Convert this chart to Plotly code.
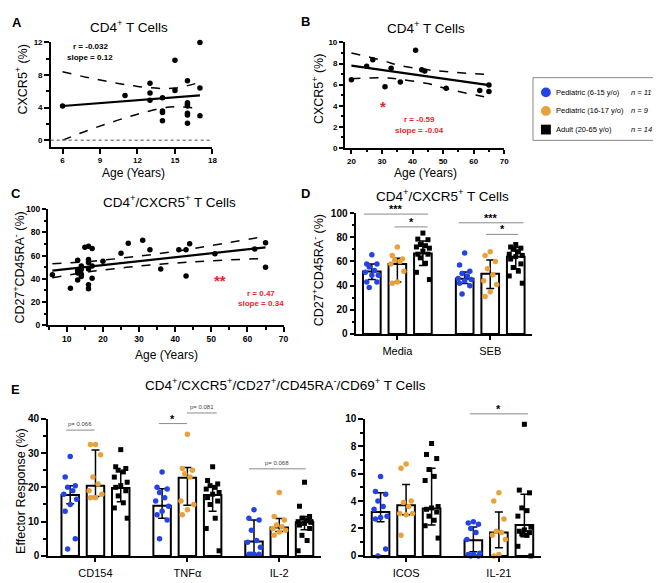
import plotly.graph_objects as go

FONT = "Liberation Sans, Arial, sans-serif"
W, H = 661, 583
BLUE, ORANGE, RED = "#2443e6", "#e9a23b", "#e3262d"

# ---- legend
group_names = ["Pediatric (6-15 y/o)", "Pediatric (16-17 y/o)", "Adult (20-65 y/o)"]
group_n = ["n = 11", "n = 9", "n = 14"]

# ---- panel A: CXCR5+ vs age, pediatric
a_age = [6, 11, 13, 13, 13, 14, 14, 14, 14, 15, 15, 16, 16, 16, 16, 16, 16, 16, 17, 17, 17]
a_cxcr5 = [4.2, 5.5, 7.0, 5.8, 4.9, 5.2, 3.6, 3.4, 2.4, 9.8, 6.1, 7.3, 4.6, 4.4, 4.2, 3.3, 3.1, 2.1, 12.0, 6.4, 3.0]
a_fit_x = [6, 17]
a_fit_y = [4.2, 5.5]
a_ci_x = [6, 8, 10, 12, 14, 15, 16, 17]
a_ci_hi = [8.4, 7.7, 7.1, 6.6, 6.35, 6.4, 6.7, 7.1]
a_ci_lo = [0.0, 1.2, 2.25, 3.2, 3.95, 4.1, 4.05, 3.85]

# ---- panel B: CXCR5+ vs age, adults
b_age = [20, 25, 27, 31, 33, 36, 41, 43, 44, 51, 62, 65, 65]
b_cxcr5 = [6.45, 7.75, 8.35, 5.8, 7.55, 6.25, 9.25, 7.4, 7.3, 5.65, 5.45, 5.95, 5.35]
b_fit_x = [20, 65]
b_fit_y = [7.8, 5.95]
b_ci_x = [20, 30, 36, 45, 52, 65]
b_ci_hi = [9.0, 8.3, 7.8, 7.4, 7.2, 6.95]
b_ci_lo = [6.55, 6.65, 6.5, 6.1, 5.55, 4.75]

# ---- panel C: CD27+CD45RA- vs age
c_age = [6, 11, 13, 13, 13, 13, 14, 14, 14, 14, 15, 16, 16, 16, 16, 16, 16, 17, 17, 17,
         20, 25, 27, 31, 33, 36, 41, 43, 43, 44, 51, 62, 65, 65]
c_val = [43.5, 32, 56, 47, 45, 39, 51, 48, 44, 42, 67, 68, 56.5, 54, 48.5, 35, 31.5, 66, 51, 40.5,
         55, 62, 70.5, 73, 65, 48.5, 65, 65, 42.5, 70, 61.5, 65.5, 71, 50]
c_fit_x = [6, 65]
c_fit_y = [47, 67]
c_ci_x = [6, 15, 20, 30, 40, 50, 65]
c_ci_hi = [53, 54.5, 56, 59.5, 63.5, 68.5, 76.5]
c_ci_lo = [41, 45.5, 47.5, 51, 53.5, 55.5, 57.5]

# ---- panel D: CD27+CD45RA- by stimulation
d_cats = ["Media", "SEB"]
d_med = [[51.7, 45.8], [58, 49.8], [66.6, 64]]
d_lo = [[45, 41.7], [43, 37.6], [56.6, 54]]
d_hi = [[58, 51.2], [62.6, 61.2], [77, 71.5]]
d_pts = [
    [[65.5, 58, 58, 55.5, 52.5, 51, 48.5, 48.5, 43, 43, 38.5],
     [67, 57, 52, 50, 48, 46, 45, 44, 42, 40, 33]],
    [[72, 65, 62, 61, 60, 58, 52, 43, 42],
     [68, 65, 60, 54, 49, 44, 41, 35, 31]],
    [[83.5, 78.5, 78, 74, 73, 72, 71, 68.5, 66, 66, 63, 58.5, 51, 45],
     [74, 72, 71, 70, 68, 66, 65, 64, 62, 58, 55, 52, 48, 42]],
]

# ---- panel E (left): effector response
e1_cats = ["CD154", "TNFα", "IL-2"]
e1_med = [[17.8, 14.6, 4.2], [20.5, 22.8, 8.3], [19.8, 17.8, 9.8]]
e1_lo = [[15.2, 11, 0.5], [17.3, 14.8, 7.1], [15.8, 13, 7.6]]
e1_hi = [[20.5, 19.6, 10.5], [30.9, 25.8, 10.9], [24.7, 20.5, 11.5]]
e1_pts = [
    [[29, 23, 20.5, 20, 19, 18, 16.5, 15, 13, 5, 2],
     [24.5, 20, 19.5, 18.5, 17, 16, 14.5, 13, 12, 10.5, 5],
     [13.5, 11, 10.5, 7.5, 4.5, 4, 2.5, 0.5, 0.5, 0.5, 0.5]],
    [[32.5, 32.5, 29.5, 23, 21, 19, 18, 17, 17],
     [35.5, 25.5, 25, 24, 23, 16, 15, 13.5, 12],
     [18.5, 11.5, 10.5, 9, 8.5, 8, 7.5, 7, 6]],
    [[31, 26, 25.5, 25, 24.5, 23, 21.5, 20.5, 20, 19, 17.5, 15.5, 14, 11],
     [26, 22, 21, 20.5, 20, 19.5, 18.5, 18, 17, 16, 15, 11, 8, 1.5],
     [21.5, 14.5, 11.5, 11, 10.5, 10, 10, 9.5, 9, 8, 6, 4.5, 1.5, 9.8]],
]

# ---- panel E (right)
e2_cats = ["ICOS", "IL-21"]
e2_med = [[3.2, 1.15], [3.7, 1.7], [3.45, 2.25]]
e2_lo = [[2.5, 0.3], [3.0, 0.6], [2.25, 1.4]]
e2_hi = [[4.6, 2.1], [5.2, 3.2], [6.4, 4.5]]
e2_pts = [
    [[5.8, 4.7, 4.5, 4.0, 3.6, 3.4, 2.9, 2.8, 2.7, 0.5, 0.0],
     [2.5, 2.4, 2.3, 2.0, 1.7, 1.2, 0.2, 0.1, 0.1, 0.0, 0.0]],
    [[6.7, 6.4, 4.0, 3.9, 3.6, 3.1, 3.1, 3.0, 1.5],
     [4.6, 4.0, 2.7, 1.8, 1.7, 1.5, 1.2, 0.1, 0.0]],
    [[8.2, 7.4, 7.1, 6.3, 5.8, 5.5, 3.6, 3.5, 3.4, 3.2, 2.9, 2.6, 2.2, 1.3],
     [9.6, 4.8, 4.6, 3.5, 3.3, 2.9, 2.1, 1.9, 1.8, 1.7, 1.6, 1.5, 0.7, 0.0]],
]

COLORS = [BLUE, ORANGE, "black"]
SYMBOLS = ["circle", "circle", "square"]
OFFS = [-0.275, 0, 0.275]
JIT = [0, -0.055, 0.055, -0.028, 0.028, -0.07, 0.07]


def px(x, y):
    return x / W, 1 - y / H


def dom_x(a, b):
    return [a / W, b / W]


def dom_y(top, bottom):
    return [1 - bottom / H, 1 - top / H]


fig = go.Figure()


def regression(xa, ya, xs, ys, fx, fy, cx, chi, clo):
    for band in (chi, clo):
        fig.add_trace(go.Scatter(x=cx, y=band, mode="lines",
                                 line=dict(color="black", width=1.5, dash="dash", shape="spline"),
                                 xaxis=xa, yaxis=ya, hoverinfo="skip"))
    fig.add_trace(go.Scatter(x=fx, y=fy, mode="lines", line=dict(color="black", width=2.2),
                             xaxis=xa, yaxis=ya))
    fig.add_trace(go.Scatter(x=xs, y=ys, mode="markers", marker=dict(color="black", size=5.5),
                             xaxis=xa, yaxis=ya, cliponaxis=False))


def bars(xa, ya, med, lo, hi, pts):
    for s in range(3):
        xs = [g + OFFS[s] for g in range(len(med[s]))]
        fig.add_trace(go.Bar(
            x=xs, y=med[s], width=0.19, xaxis=xa, yaxis=ya,
            marker=dict(color="white", line=dict(color="black", width=2)),
            error_y=dict(type="data", symmetric=False,
                         array=[h - m for h, m in zip(hi[s], med[s])],
                         arrayminus=[m - l for m, l in zip(med[s], lo[s])],
                         color="black", thickness=1.5, width=4)))
    for s in range(3):
        for g, vals in enumerate(pts[s]):
            xs = [g + OFFS[s] + JIT[i % len(JIT)] for i in range(len(vals))]
            fig.add_trace(go.Scatter(
                x=xs, y=vals, mode="markers", xaxis=xa, yaxis=ya, cliponaxis=False,
                marker=dict(color=COLORS[s], symbol=SYMBOLS[s], size=5 if s == 2 else 5.5)))


regression("x", "y", a_age, a_cxcr5, a_fit_x, a_fit_y, a_ci_x, a_ci_hi, a_ci_lo)
regression("x2", "y2", b_age, b_cxcr5, b_fit_x, b_fit_y, b_ci_x, b_ci_hi, b_ci_lo)
regression("x3", "y3", c_age, c_val, c_fit_x, c_fit_y, c_ci_x, c_ci_hi, c_ci_lo)
bars("x4", "y4", d_med, d_lo, d_hi, d_pts)
bars("x5", "y5", e1_med, e1_lo, e1_hi, e1_pts)
bars("x6", "y6", e2_med, e2_lo, e2_hi, e2_pts)


def axis(domain, rng, anchor, tickvals, ticktext=None, minor=None, size=8.5, bold=True, standoff=None):
    d = dict(domain=domain, range=rng, anchor=anchor, showline=True, linecolor="black", linewidth=2,
             ticks="outside", ticklen=4.5, tickwidth=1.8, tickcolor="black", showgrid=False, zeroline=False,
             tickmode="array", tickvals=tickvals,
             tickfont=dict(family=FONT, size=size, color="black", weight="bold" if bold else "normal"))
    if ticktext:
        d["ticktext"] = ticktext
    if minor:
        d["minor"] = dict(ticks="outside", ticklen=2.5, tickwidth=1.5, tickcolor="black", dtick=minor, showgrid=False)
    if standoff is not None:
        d["ticklabelstandoff"] = standoff
    return d


layout = dict(
    width=W, height=H, margin=dict(l=0, r=0, t=0, b=0), showlegend=False,
    plot_bgcolor="white", paper_bgcolor="white", barmode="overlay",
    font=dict(family=FONT, color="black"),
    xaxis=axis(dom_x(43, 206), [5.05, 18], "y", [6, 9, 12, 15, 18], size=8),
    yaxis=axis(dom_y(29, 136), [-0.85, 12], "x", [0, 4, 8, 12], minor=2, size=8),
    xaxis2=axis(dom_x(340, 500), [18.05, 70], "y2", [20, 30, 40, 50, 60, 70], minor=5, size=8),
    yaxis2=axis(dom_y(29, 136.7), [0, 10], "x2", [0, 2, 4, 6, 8, 10], minor=1, size=8),
    xaxis3=axis(dom_x(40.7, 277.7), [4.9, 70], "y3", [10, 20, 30, 40, 50, 60, 70], minor=5, size=8.5),
    yaxis3=axis(dom_y(199, 318), [0, 100], "x3", [0, 20, 40, 60, 80, 100], minor=10, size=8.5),
    xaxis4=axis(dom_x(350.7, 528), [-0.445, 1.45], "y4", [0.0, 1.0], d_cats, size=11, bold=False, standoff=1),
    yaxis4=axis(dom_y(203.3, 326.7), [0, 100], "x4", [0, 20, 40, 60, 80, 100], minor=10, size=10),
    xaxis5=axis(dom_x(40, 315), [-0.52, 2.45], "y5", [0.0, 1.0, 2.0], e1_cats, size=11, bold=False, standoff=1),
    yaxis5=axis(dom_y(413.3, 553.3), [0, 40], "x5", [0, 10, 20, 30, 40], minor=5, size=10),
    xaxis6=axis(dom_x(359.5, 536.7), [-0.445, 1.45], "y6", [0.0, 1.0], e2_cats, size=11, bold=False, standoff=1),
    yaxis6=axis(dom_y(413.3, 553.3), [0, 10], "x6", [0, 2, 4, 6, 8, 10], minor=1, size=10),
)
fig.update_layout(**layout)

ann = []
shapes = []


def txt(x, y, s, size=12, bold=False, color="black", xanchor="center", angle=0, italic=False):
    xp, yp = px(x, y)
    ann.append(dict(x=xp, y=yp, xref="paper", yref="paper", text=s, showarrow=False, xanchor=xanchor,
                    yanchor="middle", textangle=angle,
                    font=dict(family=FONT, size=size, color=color, weight="bold" if bold else "normal",
                              style="italic" if italic else "normal")))


# panel letters
for letter, x, y in [("A", 9, 9), ("B", 300, 8), ("C", 8, 183), ("D", 300, 183), ("E", 8, 383)]:
    txt(x, y, letter, size=13, bold=True)

# titles
txt(122, 12, "CD4<sup>+</sup> T Cells", 13.5)
txt(421, 13, "CD4<sup>+</sup> T Cells", 13.5)
txt(163, 191, "CD4<sup>+</sup>/CXCR5<sup>+</sup> T Cells", 13.5)
txt(438, 185, "CD4<sup>+</sup>/CXCR5<sup>+</sup> T Cells", 13.5)
txt(280, 378, "CD4<sup>+</sup>/CXCR5<sup>+</sup>/CD27<sup>+</sup>/CD45RA<sup>-</sup>/CD69<sup>+</sup> T Cells", 13.5)

# axis titles
txt(13, 67, "CXCR5<sup>+</sup> (%)", 12.5, angle=-90)
txt(126, 162, "Age (Years)", 12)
txt(313, 77, "CXCR5<sup>+</sup> (%)", 12.5, angle=-90)
txt(421, 162, "Age (Years)", 12)
txt(11, 259, "CD27<sup>+</sup>CD45RA<sup>-</sup> (%)", 12.5, angle=-90)
txt(160, 348, "Age (Years)", 12)
txt(312, 262, "CD27<sup>+</sup>CD45RA<sup>-</sup> (%)", 12.5, angle=-90)
txt(13, 487, "Effector Response (%)", 12.5, angle=-90)

# regression stats
txt(83, 33, "r = -0.032", 8, bold=True)
txt(83, 44, "slope = 0.12", 8, bold=True)
txt(415, 108, "r = -0.59", 8, bold=True, color=RED)
txt(415, 119, "slope = -0.04", 8, bold=True, color=RED)
txt(255, 285, "r = 0.47", 8, bold=True, color=RED)
txt(255, 296, "slope = 0.34", 8, bold=True, color=RED)
ann.append(dict(x=30.5, y=3.6, xref="x2", yref="y2", text="*", showarrow=False,
                font=dict(family=FONT, size=15, color=RED, weight="bold"), yshift=3))
ann.append(dict(x=52.5, y=36, xref="x3", yref="y3", text="**", showarrow=False,
                font=dict(family=FONT, size=15, color=RED, weight="bold"), yshift=3))

# dotted zero line in A
shapes.append(dict(type="line", xref="x domain", yref="y", x0=0, x1=1, y0=0, y1=0,
                   line=dict(color="#888", width=1.5, dash="dot")))


def sig(xa, ya, ymax, x0, x1, yv, label, small=False):
    shapes.append(dict(type="line", xref=xa, yref=ya + " domain", x0=x0, x1=x1, y0=yv / ymax, y1=yv / ymax,
                       line=dict(color="#8a8a8a", width=1)))
    ann.append(dict(x=(x0 + x1) / 2, y=yv / ymax, xref=xa, yref=ya + " domain", text=label, showarrow=False,
                    yanchor="bottom", yshift=(1 if small else -3),
                    font=dict(family=FONT, size=(6 if small else 11), color=("#444" if small else "black"),
                              weight="normal" if small else "bold")))


sig("x4", "y4", 100, -0.36, 0.33, 99.2, "***")
sig("x4", "y4", 100, -0.03, 0.325, 88.6, "*")
sig("x4", "y4", 100, 0.66, 1.358, 92, "***")
sig("x4", "y4", 100, 0.956, 1.30, 82.4, "*")
sig("x5", "y5", 40, -0.32, -0.008, 36.7, "p= 0.066", small=True)
sig("x5", "y5", 40, 0.69, 0.995, 38.6, "*")
sig("x5", "y5", 40, 0.995, 1.32, 41.7, "p= 0.081", small=True)
sig("x5", "y5", 40, 1.67, 2.29, 25.4, "p= 0.068", small=True)
sig("x6", "y6", 10, 0.687, 1.313, 10.36, "*")

# legend box
x0, y0 = px(529, 65)
x1, y1 = px(658, 129)
shapes.append(dict(type="rect", xref="paper", yref="paper", x0=x0, x1=x1, y0=y1, y1=y0,
                   line=dict(color="#888", width=1)))
for i, (name, n) in enumerate(zip(group_names, group_n)):
    cy = 80 + 19 * i
    a0, b0 = px(537, cy - 5)
    a1, b1 = px(547, cy + 5)
    shapes.append(dict(type="circle" if i < 2 else "rect", xref="paper", yref="paper",
                       x0=a0, x1=a1, y0=b1, y1=b0, fillcolor=COLORS[i], line=dict(width=0)))
    txt(550, cy, name, 7.5, xanchor="left")
    txt(626, cy, n, 7.5, xanchor="left", italic=True)

fig.update_layout(annotations=ann, shapes=shapes)
fig.write_html("out.html")
